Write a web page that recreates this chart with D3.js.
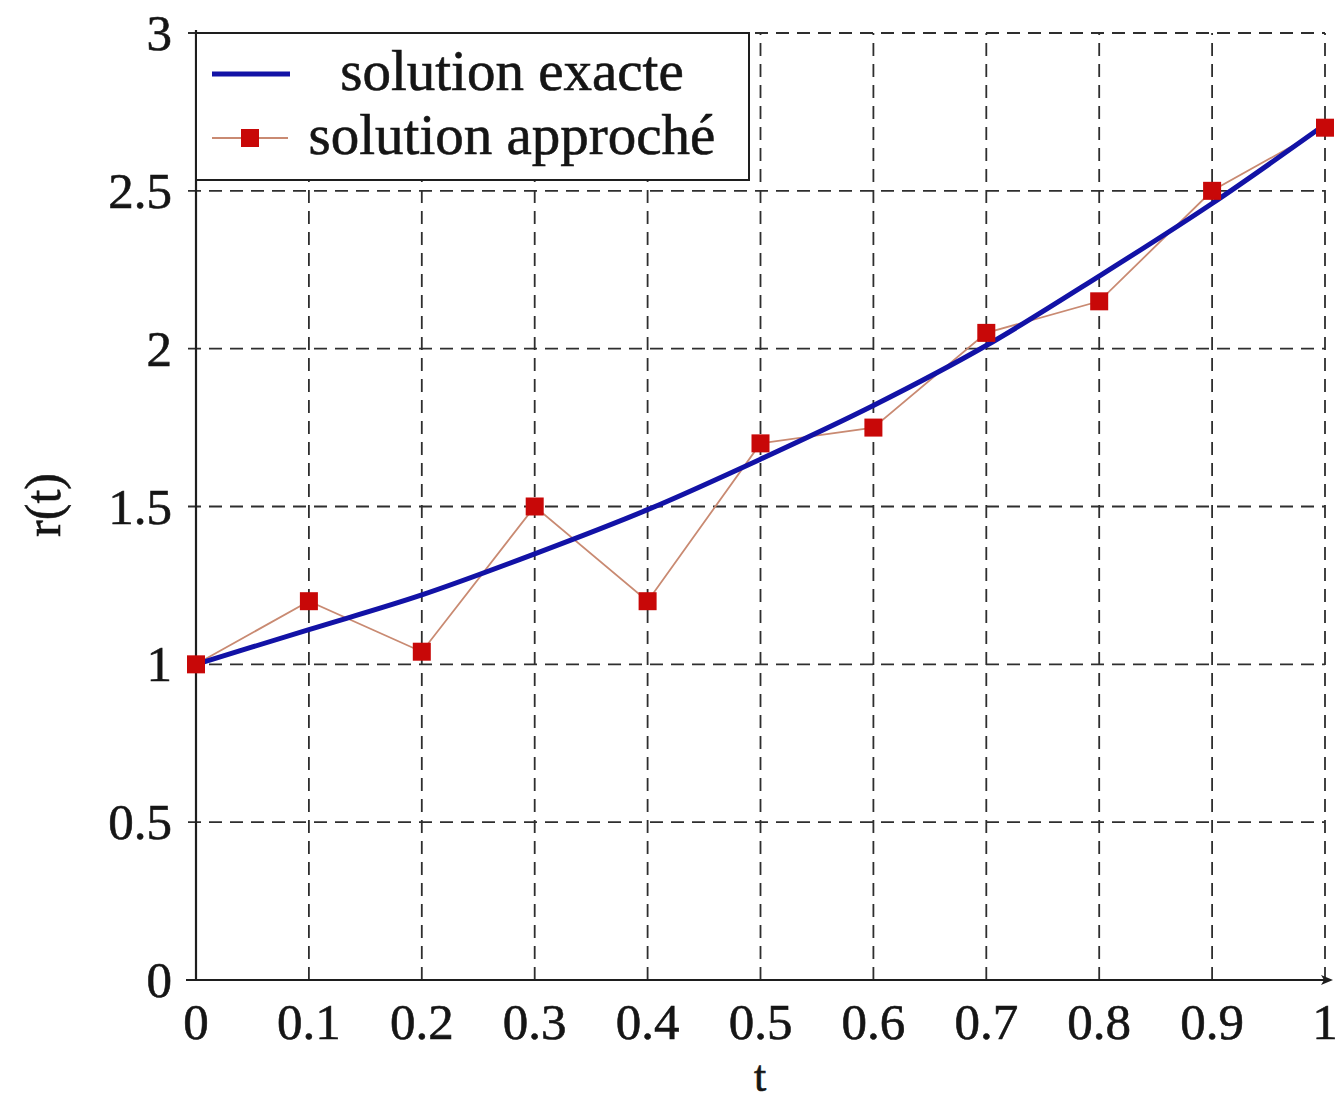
<!DOCTYPE html>
<html><head><meta charset="utf-8">
<script src="https://cdn.jsdelivr.net/npm/d3@7"></script>
<style>body{margin:0;background:#fff}svg{display:block}</style>
</head><body>
<script>
const tValues = [0,0.1,0.2,0.3,0.4,0.5,0.6,0.7,0.8,0.9,1];
const exactValues = [1,1.11,1.22,1.35,1.49,1.65,1.82,2.01,2.23,2.46,2.71];
const approxValues = [1,1.2,1.04,1.5,1.2,1.7,1.75,2.05,2.15,2.5,2.7];
const xTicks = [0,0.1,0.2,0.3,0.4,0.5,0.6,0.7,0.8,0.9,1];
const yTicks = [0,0.5,1,1.5,2,2.5,3];
const xTickLabels = ["0","0.1","0.2","0.3","0.4","0.5","0.6","0.7","0.8","0.9","1"];
const yTickLabels = ["0","0.5","1","1.5","2","2.5","3"];
const legendLabels = ["solution exacte","solution approché"];

const W=1338,H=1101;
const svg=d3.select("body").append("svg").attr("width",W).attr("height",H);
const x=d3.scaleLinear().domain([0,1]).range([196,1325]);
const y=d3.scaleLinear().domain([0,3]).range([980,33]);
const font="'Liberation Serif','DejaVu Serif',serif";
const gridC="#2e2e2e";
const txtC="#151515";

function styleText(s,size){
  return s.attr("font-family",font).attr("font-size",size).attr("fill",txtC)
    .attr("stroke",txtC).attr("stroke-width",0.6);
}

// grid
svg.append("g").selectAll("line").data(xTicks.slice(1)).join("line")
  .attr("x1",d=>x(d)).attr("x2",d=>x(d)).attr("y1",y(0)).attr("y2",y(3))
  .attr("stroke",gridC).attr("stroke-width",1.8).attr("stroke-dasharray","13,8");
svg.append("g").selectAll("line").data(yTicks.slice(1)).join("line")
  .attr("x1",x(0)-8).attr("x2",x(1)).attr("y1",d=>y(d)).attr("y2",d=>y(d))
  .attr("stroke",gridC).attr("stroke-width",1.8).attr("stroke-dasharray","13,8");

// axes
svg.append("line").attr("x1",x(0)).attr("x2",x(0)).attr("y1",y(0)).attr("y2",y(3)-3)
  .attr("stroke","#1e1e1e").attr("stroke-width",2.2);
svg.append("line").attr("x1",x(0)-10).attr("x2",x(1)+2).attr("y1",y(0)).attr("y2",y(0))
  .attr("stroke","#1e1e1e").attr("stroke-width",2.2);
svg.append("path").attr("d",`M${x(1)+8},${y(0)} L${x(1)-4},${y(0)-5} L${x(1)-1},${y(0)} L${x(1)-4},${y(0)+5}Z`).attr("fill","#1e1e1e");

// tick labels
styleText(svg.append("g").selectAll("text").data(xTicks).join("text")
  .attr("x",d=>x(d)).attr("y",1039).attr("text-anchor","middle"),51)
  .text((d,i)=>xTickLabels[i]);
styleText(svg.append("g").selectAll("text").data(yTicks).join("text")
  .attr("x",172).attr("y",d=>y(d)+17).attr("text-anchor","end"),51)
  .text((d,i)=>yTickLabels[i]);

// axis labels
styleText(svg.append("text").attr("x",760).attr("y",1091).attr("text-anchor","middle"),44).text("t");
styleText(svg.append("text").attr("transform","translate(60,505) rotate(-90)").attr("text-anchor","middle"),50).text("r(t)");

// approx line
const pts=tValues.map((t,i)=>[t,approxValues[i]]);
svg.append("path").datum(pts)
  .attr("d",d3.line().x(d=>x(d[0])).y(d=>y(d[1])))
  .attr("fill","none").attr("stroke","#c98a72").attr("stroke-width",1.8);

// exact curve
const ex=tValues.map((t,i)=>[t,exactValues[i]]);
svg.append("path").datum(ex)
  .attr("d",d3.line().x(d=>x(d[0])).y(d=>y(d[1])).curve(d3.curveMonotoneX))
  .attr("fill","none").attr("stroke","#1212a6").attr("stroke-width",5);

// markers
svg.append("g").selectAll("rect").data(pts).join("rect")
  .attr("x",d=>x(d[0])-9).attr("y",d=>y(d[1])-9).attr("width",18).attr("height",18)
  .attr("fill","#c80808");

// legend
const lg=svg.append("g");
lg.append("rect").attr("x",x(0)).attr("y",33).attr("width",553).attr("height",147)
  .attr("fill","#fff").attr("stroke","#1e1e1e").attr("stroke-width",2);
lg.append("line").attr("x1",212).attr("x2",290).attr("y1",74).attr("y2",74)
  .attr("stroke","#1212a6").attr("stroke-width",5);
lg.append("line").attr("x1",212).attr("x2",288).attr("y1",138).attr("y2",138)
  .attr("stroke","#c98a72").attr("stroke-width",1.8);
lg.append("rect").attr("x",241).attr("y",129).attr("width",18).attr("height",18).attr("fill","#c80808");
styleText(lg.selectAll("text.l").data(legendLabels).join("text")
  .attr("x",512).attr("y",(d,i)=>90+i*64).attr("text-anchor","middle"),57).text(d=>d);
</script>
</body></html>
